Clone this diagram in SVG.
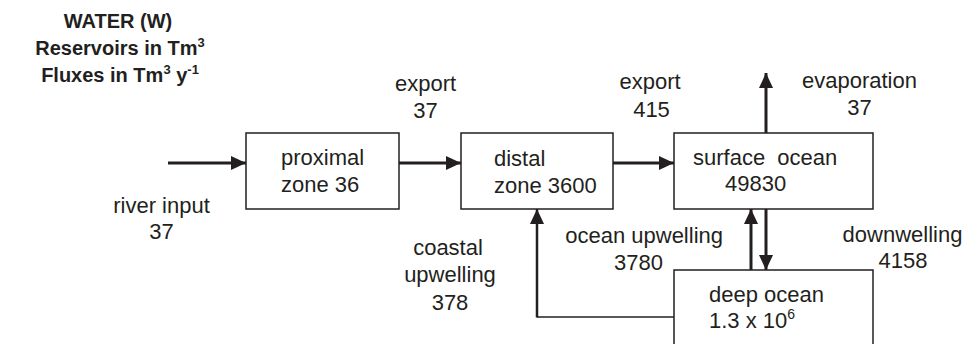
<svg xmlns="http://www.w3.org/2000/svg" width="970" height="344" viewBox="0 0 970 344">
<style>
text{font-family:"Liberation Sans",Arial,sans-serif;font-size:22px;fill:#231f20}
.t{font-weight:bold;font-size:20px}
.box{fill:#fff;stroke:#231f20;stroke-width:1.5}
.a{stroke:#231f20;stroke-width:3;fill:none;marker-end:url(#ah)}
.l{stroke:#231f20;stroke-width:1.5;fill:none}
.m{text-anchor:middle}
</style>
<defs>
<marker id="ah" markerUnits="userSpaceOnUse" markerWidth="16" markerHeight="15" refX="15" refY="7" orient="auto">
<path d="M0,0 L15,7 L0,14 z" fill="#231f20"/>
</marker>
</defs>
<rect width="970" height="344" fill="#fff"/>
<g id="title">
<text class="t m" x="118" y="28">WATER (W)</text>
<text class="t m" x="120" y="55">Reservoirs in Tm<tspan dy="-8" font-size="13">3</tspan></text>
<text class="t m" x="120" y="82">Fluxes in Tm<tspan dy="-8" font-size="13">3</tspan><tspan dy="8"> y</tspan><tspan dy="-8" font-size="13">-1</tspan></text>
</g>
<g id="connectors">
<line class="a" x1="168" y1="163" x2="246" y2="163"/>
<line class="a" x1="399" y1="163" x2="461" y2="163"/>
<line class="a" x1="613" y1="163" x2="674" y2="163"/>
<line class="a" x1="766" y1="133" x2="766" y2="73"/>
<line class="a" x1="751" y1="270" x2="751" y2="209"/>
<line class="a" x1="766" y1="209" x2="766" y2="270"/>
<polyline class="l" points="674,317 537,317"/>
<line class="a" x1="537" y1="317.5" x2="537" y2="209" style="stroke-width:2.5"/>
</g>
<g id="proximal">
<rect class="box" x="246" y="133" width="153" height="76"/>
<text x="281" y="165">proximal</text>
<text x="281" y="192">zone 36</text>
</g>
<g id="distal">
<rect class="box" x="461" y="133" width="152" height="76"/>
<text x="494" y="166">distal</text>
<text x="494" y="193">zone 3600</text>
</g>
<g id="surface">
<rect class="box" x="674" y="133" width="199" height="76"/>
<text x="693" y="165" xml:space="preserve">surface  ocean</text>
<text x="725" y="191">49830</text>
</g>
<g id="deep">
<rect class="box" x="674" y="270" width="199" height="80"/>
<text x="709" y="302">deep ocean</text>
<text x="709" y="328">1.3 x 10<tspan dy="-9" font-size="14">6</tspan></text>
</g>
<g id="labels">
<text class="m" x="161.5" y="213">river input</text>
<text class="m" x="161.5" y="239">37</text>
<text class="m" x="425.5" y="91">export</text>
<text class="m" x="425.5" y="118">37</text>
<text class="m" x="650" y="89">export</text>
<text class="m" x="651.5" y="117">415</text>
<text class="m" x="859.5" y="88">evaporation</text>
<text class="m" x="859.5" y="115">37</text>
<text class="m" x="448" y="255">coastal</text>
<text class="m" x="450" y="282">upwelling</text>
<text class="m" x="450" y="310">378</text>
<text x="723" y="243" text-anchor="end">ocean upwelling</text>
<text class="m" x="638.5" y="270">3780</text>
<text class="m" x="902.5" y="242">downwelling</text>
<text class="m" x="903" y="268">4158</text>
</g>
</svg>
